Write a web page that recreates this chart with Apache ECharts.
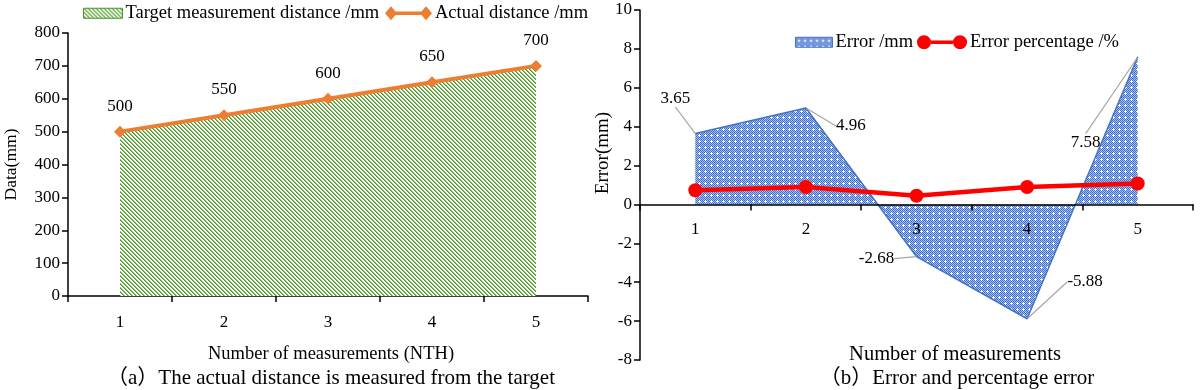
<!DOCTYPE html>
<html><head><meta charset="utf-8">
<script src="https://cdn.jsdelivr.net/npm/echarts@6/dist/echarts.min.js"></script>
<style>html,body{margin:0;padding:0;background:#fff}#c{width:1200px;height:390px}</style>
</head><body><div id="c"></div>
<script>
// ---- data ----
const categories = ['1', '2', '3', '4', '5'];
const targetDistance = [500, 550, 600, 650, 700];
const actualDistance = [500, 550, 600, 650, 700];
const errorMm = [3.65, 4.96, -2.68, -5.88, 7.58];
const errorPct = [0.73, 0.90, 0.45, 0.90, 1.08];

// ---- styles ----
const FONT = '"Liberation Serif", "Noto Sans CJK SC", serif';
const errLabelShift = [[-20, -20], [45, 33], [-40, 17], [58, -22], [-52, 100]];

function hatchPattern() {
  const n = 4;
  const c = document.createElement('canvas'); c.width = n; c.height = n;
  const g = c.getContext('2d');
  g.fillStyle = '#ffffff'; g.fillRect(0, 0, n, n);
  for (let y = 0; y < n; y++) for (let x = 0; x < n; x++) {
    const d = ((x - y) % n + n) % n;
    if (d === 0) { g.fillStyle = '#4a9428'; g.fillRect(x, y, 1, 1); }
    if (d === 1) { g.fillStyle = '#8fc173'; g.fillRect(x, y, 1, 1); }
  }
  return c;
}
function dotPattern() {
  const n = 6;
  const c = document.createElement('canvas'); c.width = n; c.height = n;
  const g = c.getContext('2d');
  for (let y = 0; y < n; y++) for (let x = 0; x < n; x++) {
    g.fillStyle = (x + y) % 2 === 0 ? '#3f6fd0' : '#a9bfec';
    g.fillRect(x, y, 1, 1);
  }
  g.fillStyle = '#ffffff';
  g.fillRect(3, 2, 1, 3); g.fillRect(2, 3, 3, 1);
  return c;
}
const hatch = { image: hatchPattern(), repeat: 'repeat' };
const dots = { image: dotPattern(), repeat: 'repeat' };

const axisText = { color: '#000', fontFamily: FONT, fontSize: 17 };
const legendText = { fontFamily: FONT, fontSize: 18.5, color: '#000', padding: [0, 0, 0, -2] };
const titleText = (s) => ({ fontFamily: FONT, fontSize: s, fontWeight: 'normal', color: '#000' });

// legend icons: line with a symbol at each end
const diamondLineIcon = 'path://M0 7L6 0L12 7L6 14ZM6 5.2L41 5.2L41 8.8L6 8.8ZM35 7L41 0L47 7L41 14Z';
const circleLineIcon = 'path://M0 7A7 7 0 1 1 14 7A7 7 0 1 1 0 7ZM14 5.3L36 5.3L36 8.7L14 8.7ZM36 7A7 7 0 1 1 50 7A7 7 0 1 1 36 7Z';

const chart = echarts.init(document.getElementById('c'));
chart.setOption({
  animation: false,
  backgroundColor: '#fff',
  textStyle: { fontFamily: FONT },
  title: [
    { text: 'Number of measurements (NTH)', left: 326, top: 340, textAlign: 'center', textStyle: titleText(18.5) },
    { text: '（a）The actual distance is measured from the target', left: 326, top: 363, textAlign: 'center', textStyle: titleText(21) },
    { text: 'Number of measurements', left: 950, top: 339, textAlign: 'center', textStyle: titleText(20.5) },
    { text: '（b）Error and percentage error', left: 952, top: 363, textAlign: 'center', textStyle: titleText(21) }
  ],
  graphic: [
    { type: 'text', x: 603, y: 153, rotation: Math.PI / 2,
      style: { text: 'Error(mm)', fill: '#000', font: '19px "Liberation Serif", serif', align: 'center', verticalAlign: 'middle' } }
  ],
  legend: [
    { left: 83, top: 4, padding: 0, itemWidth: 39, itemHeight: 10, textStyle: legendText,
      data: [{ name: 'Target measurement distance /mm', icon: 'rect',
               itemStyle: { color: hatch, borderColor: '#4a9428', borderWidth: 1 } }] },
    { left: 385, top: 4, padding: 0, itemWidth: 47, itemHeight: 14, textStyle: legendText,
      data: [{ name: 'Actual distance /mm', icon: diamondLineIcon, itemStyle: { color: '#ed7d31' } }] },
    { left: 795, top: 33, padding: 0, itemWidth: 37, itemHeight: 10, textStyle: legendText,
      data: [{ name: 'Error /mm', icon: 'rect',
               itemStyle: { color: dots, borderColor: '#4472c4', borderWidth: 1 } }] },
    { left: 917, top: 33, padding: 0, itemWidth: 50, itemHeight: 14, textStyle: legendText,
      data: [{ name: 'Error percentage /%', icon: circleLineIcon, itemStyle: { color: '#ff0000' } }] }
  ],
  grid: [
    { left: 68, top: 33, width: 520, height: 263 },
    { left: 640, top: 10, width: 553, height: 350 }
  ],
  xAxis: [
    { type: 'category', gridIndex: 0, data: categories, boundaryGap: true,
      axisLine: { lineStyle: { color: '#000', width: 1.5 } },
      axisTick: { show: true, length: 6, lineStyle: { color: '#000', width: 1.5 } },
      axisLabel: Object.assign({ margin: 18 }, axisText) },
    { type: 'category', gridIndex: 1, data: categories, boundaryGap: true, z: 10,
      position: 'bottom', offset: -155.6,
      axisLine: { onZero: false, lineStyle: { color: '#000', width: 1.5 } },
      axisTick: { show: true, length: 6, lineStyle: { color: '#000', width: 1.5 } },
      axisLabel: Object.assign({ margin: 17, interval: 0, hideOverlap: false, showMinLabel: true, showMaxLabel: true }, axisText) }
  ],
  yAxis: [
    { type: 'value', gridIndex: 0, min: 0, max: 800, interval: 100,
      name: 'Data(mm)', nameLocation: 'middle', nameGap: 48,
      nameTextStyle: { fontFamily: FONT, fontSize: 17.5, color: '#000' },
      axisLine: { show: true, lineStyle: { color: '#000', width: 1.5 } },
      axisTick: { show: true, length: 6, lineStyle: { color: '#000', width: 1.5 } },
      splitLine: { show: false },
      axisLabel: Object.assign({ margin: 8 }, axisText) },
    { type: 'value', gridIndex: 1, min: -8, max: 10, interval: 2,
      axisLine: { show: true, lineStyle: { color: '#000', width: 1.5 } },
      axisTick: { show: true, length: 6, lineStyle: { color: '#000', width: 1.5 } },
      splitLine: { show: false },
      axisLabel: Object.assign({ margin: 8 }, axisText) }
  ],
  series: [
    { name: 'Target measurement distance /mm', type: 'line', xAxisIndex: 0, yAxisIndex: 0,
      data: targetDistance, symbol: 'none',
      itemStyle: { color: '#4a9428' },
      lineStyle: { color: '#4a9428', width: 1.5 },
      areaStyle: { color: hatch, opacity: 1 }, z: 2 },
    { name: 'Actual distance /mm', type: 'line', xAxisIndex: 0, yAxisIndex: 0,
      data: actualDistance, symbol: 'diamond', symbolSize: 12,
      itemStyle: { color: '#ed7d31' },
      lineStyle: { color: '#ed7d31', width: 4 },
      label: { show: true, position: 'top', distance: 11, color: '#000', fontFamily: FONT, fontSize: 17 },
      z: 3 },
    { name: 'Error /mm', type: 'line', xAxisIndex: 1, yAxisIndex: 1,
      data: errorMm, symbol: 'circle', symbolSize: 1, showSymbol: true,
      itemStyle: { color: '#4472c4' },
      lineStyle: { color: '#4472c4', width: 1.5 },
      areaStyle: { color: dots, opacity: 1 },
      label: { show: true, position: 'top', distance: 6, color: '#000', fontFamily: FONT, fontSize: 17 },
      labelLine: { show: true, lineStyle: { color: '#a6a6a6', width: 1.2 } },
      labelLayout: function (p) { const s = errLabelShift[p.dataIndex]; return { dx: s[0], dy: s[1] }; },
      z: 2 },
    { name: 'Error percentage /%', type: 'line', xAxisIndex: 1, yAxisIndex: 1,
      data: errorPct, symbol: 'circle', symbolSize: 14,
      itemStyle: { color: '#ff0000' },
      lineStyle: { color: '#ff0000', width: 4.5 },
      z: 3 }
  ]
});
</script></body></html>
